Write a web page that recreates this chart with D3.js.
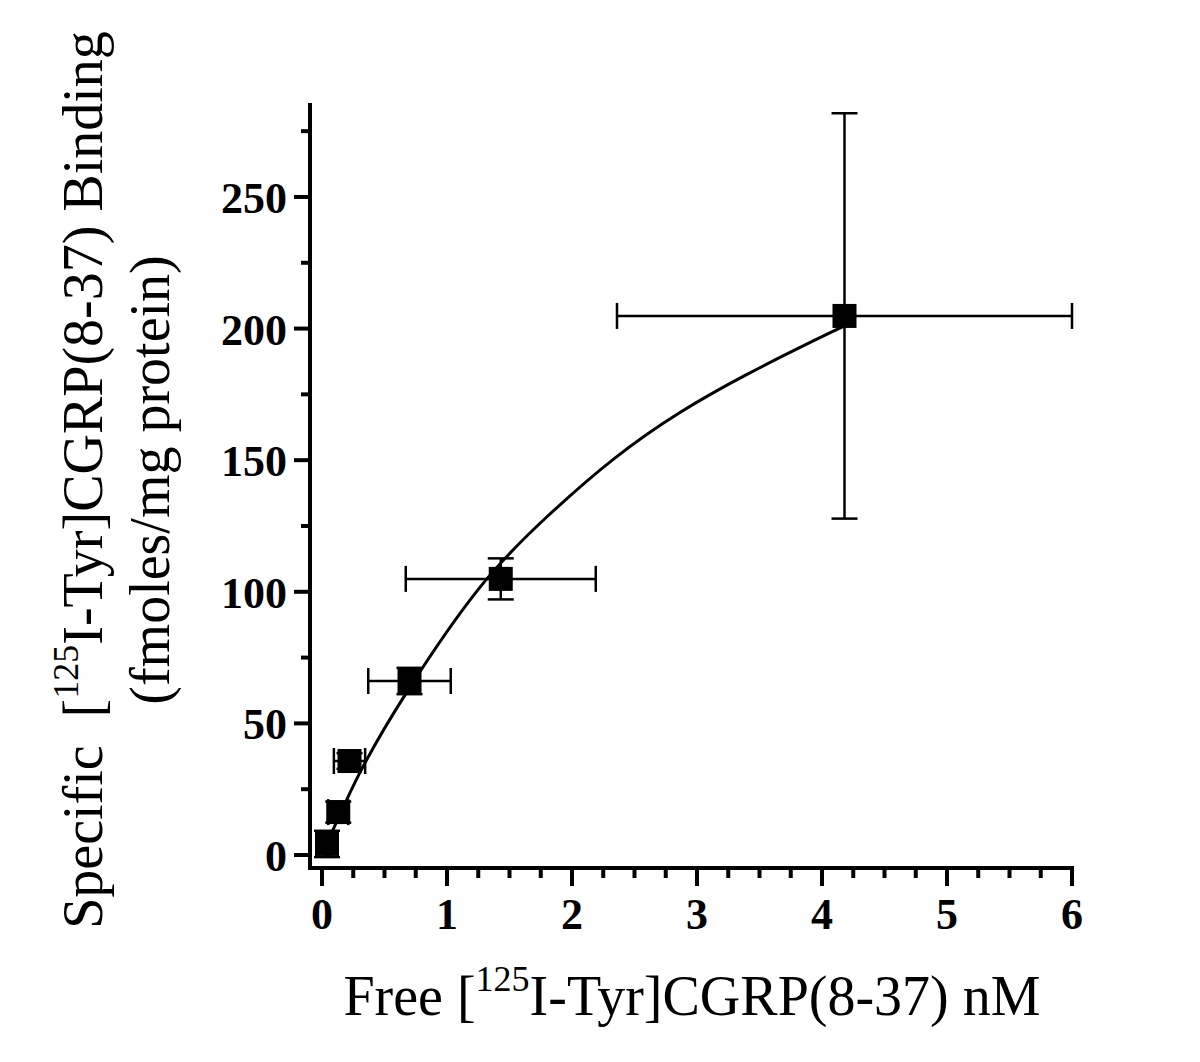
<!DOCTYPE html>
<html><head><meta charset="utf-8">
<script src="https://cdn.jsdelivr.net/npm/d3@7/dist/d3.min.js"></script>
<style>body{margin:0;background:#fff;} svg{display:block;}</style>
</head><body>
<svg id="c" width="1200" height="1062"></svg>
<script>
// Data
const freeNM   = [0.04, 0.13, 0.22, 0.70, 1.43, 4.18];
const bound    = [4.2, 16.3, 35.7, 66.1, 104.9, 204.8];
const xErr     = [0.02, 0.08, 0.125, 0.33, 0.76, 1.82];
const yErr     = [5, 4, 3, 5, 7.8, 77];
// fitted saturation curve
const curveX   = [0, 0.3, 0.7, 1.26, 1.8, 2.33, 2.86, 3.4, 3.93, 4.18];
const curveY   = [0, 31, 63.5, 101.5, 128.5, 150.3, 168, 182.6, 195.3, 201];
const xMajor   = [0, 1, 2, 3, 4, 5, 6];
const xMinor   = d3.range(0.25, 6, 0.25).filter(v => Math.abs(v - Math.round(v)) > 1e-6);
const yMajor   = [0, 50, 100, 150, 200, 250];
const yMinor   = [25, 75, 125, 175, 225, 275];

const svg = d3.select('#c');
const x = d3.scaleLinear().domain([-0.096, 6.0]).range([310, 1072]);
const y = d3.scaleLinear().domain([-4.94, 285.7]).range([868, 103]);

const font = '"Liberation Serif","Times New Roman",Times,serif';

// Axes
const gx = svg.append('g').attr('transform', 'translate(0,868)');
gx.append('line').attr('x1', x.range()[0]).attr('x2', x.range()[1] + 2).attr('stroke', '#000').attr('stroke-width', 4);
gx.selectAll('.mj').data(xMajor).join('line').attr('class','mj')
  .attr('x1', d => x(d)).attr('x2', d => x(d)).attr('y1', 0).attr('y2', 18)
  .attr('stroke', '#000').attr('stroke-width', 4);
gx.selectAll('.mn').data(xMinor).join('line').attr('class','mn')
  .attr('x1', d => x(d)).attr('x2', d => x(d)).attr('y1', 0).attr('y2', 10)
  .attr('stroke', '#000').attr('stroke-width', 4);
gx.selectAll('text').data(xMajor).join('text')
  .attr('x', d => x(d)).attr('y', 61).attr('text-anchor', 'middle')
  .attr('font-family', font).attr('font-weight', 'bold').attr('font-size', 44)
  .text(d => d);

const gy = svg.append('g').attr('transform', 'translate(310,0)');
gy.append('line').attr('y1', y.range()[0] + 2).attr('y2', y.range()[1]).attr('stroke', '#000').attr('stroke-width', 4);
gy.selectAll('.mj').data(yMajor).join('line').attr('class','mj')
  .attr('y1', d => y(d)).attr('y2', d => y(d)).attr('x1', 0).attr('x2', -16)
  .attr('stroke', '#000').attr('stroke-width', 4);
gy.selectAll('.mn').data(yMinor).join('line').attr('class','mn')
  .attr('y1', d => y(d)).attr('y2', d => y(d)).attr('x1', 0).attr('x2', -9)
  .attr('stroke', '#000').attr('stroke-width', 4);
gy.selectAll('text').data(yMajor).join('text')
  .attr('x', -23).attr('y', d => y(d) + 16).attr('text-anchor', 'end')
  .attr('font-family', font).attr('font-weight', 'bold').attr('font-size', 44)
  .text(d => d);

// Curve
const curvePts = curveX.map((v, i) => [v, curveY[i]]);
svg.append('path').datum(curvePts)
  .attr('d', d3.line().x(d => x(d[0])).y(d => y(d[1])).curve(d3.curveNatural))
  .attr('fill', 'none').attr('stroke', '#000').attr('stroke-width', 3);

// Error bars
const pts = freeNM.map((v, i) => ({x: v, y: bound[i], ex: xErr[i], ey: yErr[i]}));
const cap = 13;
const eb = svg.append('g').attr('stroke', '#000').attr('stroke-width', 2.5);
pts.forEach(p => {
  const cx = x(p.x), cy = y(p.y);
  eb.append('line').attr('x1', x(p.x - p.ex)).attr('x2', x(p.x + p.ex)).attr('y1', cy).attr('y2', cy);
  eb.append('line').attr('x1', x(p.x - p.ex)).attr('x2', x(p.x - p.ex)).attr('y1', cy - cap).attr('y2', cy + cap);
  eb.append('line').attr('x1', x(p.x + p.ex)).attr('x2', x(p.x + p.ex)).attr('y1', cy - cap).attr('y2', cy + cap);
  eb.append('line').attr('x1', cx).attr('x2', cx).attr('y1', y(p.y - p.ey)).attr('y2', y(p.y + p.ey));
  eb.append('line').attr('x1', cx - cap).attr('x2', cx + cap).attr('y1', y(p.y - p.ey)).attr('y2', y(p.y - p.ey));
  eb.append('line').attr('x1', cx - cap).attr('x2', cx + cap).attr('y1', y(p.y + p.ey)).attr('y2', y(p.y + p.ey));
});

// Markers
const ms = 24;
svg.selectAll('rect.m').data(pts).join('rect').attr('class', 'm')
  .attr('x', d => x(d.x) - ms / 2).attr('y', d => y(d.y) - ms / 2)
  .attr('width', ms).attr('height', ms).attr('fill', '#000');

// X title
const xt = svg.append('text').attr('x', 692).attr('y', 1015).attr('text-anchor', 'middle')
  .attr('font-family', font).attr('font-size', 56);
xt.append('tspan').text('Free [');
xt.append('tspan').attr('font-size', 36).attr('dy', -24).text('125');
xt.append('tspan').attr('dy', 24).text('I-Tyr]CGRP(8-37) nM');

// Y title
const yt = svg.append('g').attr('transform', 'translate(102,480) rotate(-90)');
const l1 = yt.append('text').attr('x', 0).attr('y', 0).attr('text-anchor', 'middle')
  .attr('font-family', font).attr('font-size', 56).attr('xml:space', 'preserve');
l1.append('tspan').text('Specific  [');
l1.append('tspan').attr('font-size', 36).attr('dy', -24).text('125');
l1.append('tspan').attr('dy', 24).text('I-Tyr]CGRP(8-37) Binding');
yt.append('text').attr('x', 0).attr('y', 67).attr('text-anchor', 'middle')
  .attr('font-family', font).attr('font-size', 56).text('(fmoles/mg protein)');
</script>
</body></html>
